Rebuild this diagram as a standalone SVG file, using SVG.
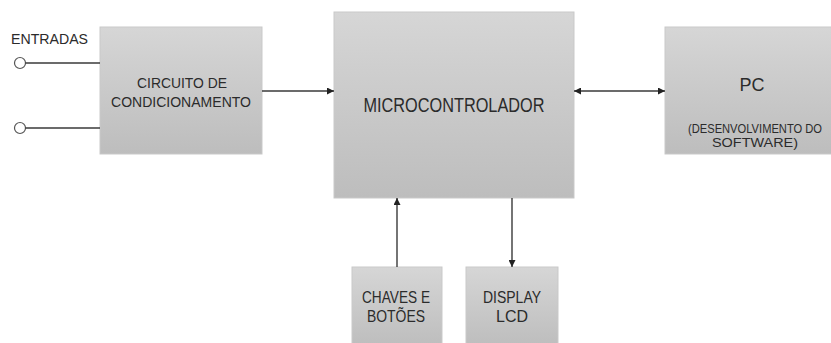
<svg xmlns="http://www.w3.org/2000/svg" width="831" height="343" viewBox="0 0 831 343">
<style>
.box{fill:url(#g);stroke:#c9c9c9;stroke-width:1}
.t{font-family:"Liberation Sans",Arial,sans-serif;fill:#2b2b2b;text-anchor:middle}
.ln{stroke:#3a3a3a;stroke-width:1.4;fill:none}
</style>
<defs>
<linearGradient id="g" x1="0" y1="0" x2="0" y2="1">
<stop offset="0" stop-color="#d6d6d6"/>
<stop offset="1" stop-color="#bdbdbd"/>
</linearGradient>
<marker id="ah" viewBox="0 0 10 10" refX="10" refY="5" markerWidth="7" markerHeight="7" markerUnits="userSpaceOnUse" orient="auto-start-reverse">
<path d="M0,0 L10,5 L0,10 z" fill="#222"/>
</marker>
</defs>
<rect width="831" height="343" fill="#fff"/>
<g id="entradas">
<text class="t" x="11" y="44" style="text-anchor:start" font-size="15" textLength="77" lengthAdjust="spacingAndGlyphs">ENTRADAS</text>
<circle cx="20" cy="63" r="5.5" fill="#fff" stroke="#555" stroke-width="1.2"/>
<circle cx="20" cy="128" r="5.5" fill="#fff" stroke="#555" stroke-width="1.2"/>
</g>
<g id="circuito">
<rect class="box" x="100" y="27" width="162" height="127"/>
<text class="t" x="182" y="88" font-size="15" textLength="90" lengthAdjust="spacingAndGlyphs">CIRCUITO DE</text>
<text class="t" x="181" y="107" font-size="15" textLength="140" lengthAdjust="spacingAndGlyphs">CONDICIONAMENTO</text>
</g>
<g id="micro">
<rect class="box" x="334" y="12" width="240" height="186"/>
<text class="t" x="454" y="112" font-size="20.5" textLength="181" lengthAdjust="spacingAndGlyphs">MICROCONTROLADOR</text>
</g>
<g id="pc">
<rect class="box" x="665" y="27" width="167" height="127"/>
<text class="t" x="752" y="91" font-size="18" textLength="25" lengthAdjust="spacingAndGlyphs">PC</text>
<text class="t" x="755" y="133" font-size="12" textLength="134" lengthAdjust="spacingAndGlyphs">(DESENVOLVIMENTO DO</text>
<text class="t" x="755" y="147" font-size="12.5" textLength="86" lengthAdjust="spacingAndGlyphs">SOFTWARE)</text>
</g>
<g id="chaves">
<rect class="box" x="352" y="267" width="90" height="80"/>
<text class="t" x="396" y="303" font-size="17" textLength="68" lengthAdjust="spacingAndGlyphs">CHAVES E</text>
<text class="t" x="396" y="322" font-size="17" textLength="58" lengthAdjust="spacingAndGlyphs">BOTÕES</text>
</g>
<g id="display">
<rect class="box" x="466" y="267" width="92" height="80"/>
<text class="t" x="512" y="303" font-size="17" textLength="58" lengthAdjust="spacingAndGlyphs">DISPLAY</text>
<text class="t" x="512" y="322" font-size="17" textLength="32" lengthAdjust="spacingAndGlyphs">LCD</text>
</g>
<g id="connectors">
<line class="ln" x1="25.5" y1="63" x2="100" y2="63"/>
<line class="ln" x1="25.5" y1="128" x2="100" y2="128"/>
<line class="ln" x1="262" y1="91" x2="334" y2="91" marker-end="url(#ah)"/>
<line class="ln" x1="574" y1="91" x2="665" y2="91" marker-start="url(#ah)" marker-end="url(#ah)"/>
<line class="ln" x1="397" y1="267" x2="397" y2="198" marker-end="url(#ah)"/>
<line class="ln" x1="512" y1="198" x2="512" y2="267" marker-end="url(#ah)"/>
</g>
</svg>
